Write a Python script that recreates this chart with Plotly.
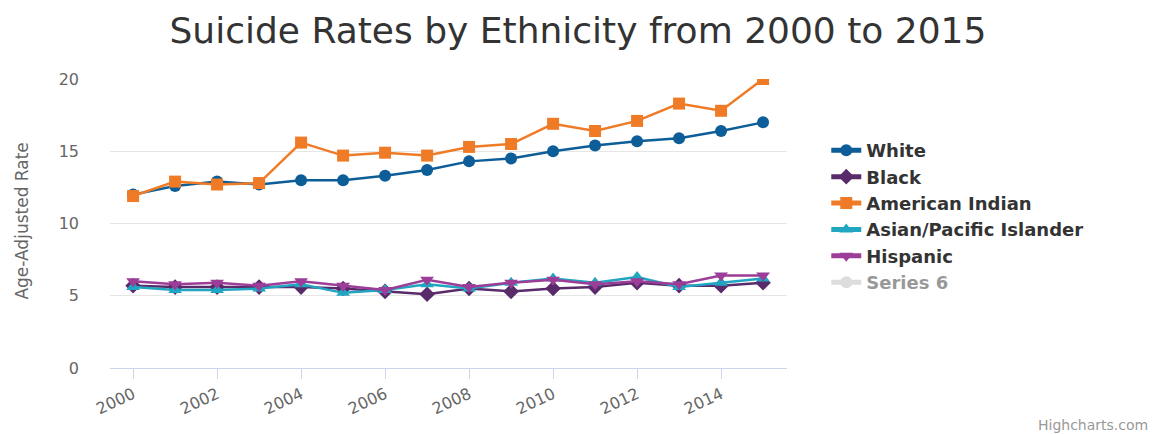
import plotly.graph_objects as go

years = list(range(2000, 2016))
white = [12.0, 12.6, 12.9, 12.7, 13.0, 13.0, 13.3, 13.7, 14.3, 14.5, 15.0, 15.4, 15.7, 15.9, 16.4, 17.0]
black = [5.7, 5.6, 5.6, 5.6, 5.6, 5.5, 5.3, 5.1, 5.5, 5.3, 5.5, 5.6, 5.9, 5.7, 5.7, 5.9]
american_indian = [11.9, 12.9, 12.7, 12.8, 15.6, 14.7, 14.9, 14.7, 15.3, 15.5, 16.9, 16.4, 17.1, 18.3, 17.8, 20.0]
asian_pi = [5.6, 5.4, 5.4, 5.5, 5.8, 5.2, 5.4, 5.8, 5.5, 5.9, 6.2, 5.9, 6.3, 5.6, 5.9, 6.2]
hispanic = [6.0, 5.8, 5.9, 5.7, 6.0, 5.7, 5.4, 6.1, 5.6, 5.9, 6.1, 5.8, 6.0, 5.8, 6.4, 6.4]
series6 = [None]

x_ticks = list(range(2000, 2015, 2))
y_ticks = [0, 5, 10, 15, 20]

series = [
    ("White", white, "#0c5d98", "circle"),
    ("Black", black, "#5a2b6b", "diamond"),
    ("American Indian", american_indian, "#f07b27", "square"),
    ("Asian/Pacific Islander", asian_pi, "#21a6c2", "triangle-up"),
    ("Hispanic", hispanic, "#9c3d98", "triangle-down"),
]

FONT = "DejaVu Sans"

fig = go.Figure()
for name, vals, color, sym in series:
    fig.add_trace(go.Scatter(
        x=years, y=vals, name=name, mode="lines+markers",
        line=dict(color=color, width=2.5),
        marker=dict(symbol=sym, size=12, color=color),
    ))
fig.add_trace(go.Scatter(
    x=years[:len(series6)], y=series6, name="Series 6", mode="lines+markers",
    line=dict(color="#bbbbbb", width=2.5),
    marker=dict(symbol="circle", size=12, color="#bbbbbb"),
    visible="legendonly",
))

fig.update_layout(
    width=1162, height=434,
    margin=dict(l=102, r=383, t=71, b=74),
    paper_bgcolor="white", plot_bgcolor="white",
    title=dict(text="Suicide Rates by Ethnicity from 2000 to 2015",
               x=0.4905, xref="container", xanchor="center",
               y=0.949, yref="container", yanchor="middle",
               font=dict(family=FONT, size=36, color="#333333")),
    font=dict(family=FONT, color="#666666"),
    legend=dict(x=1.058, xanchor="left", y=0.524, yanchor="middle",
                font=dict(family=FONT, size=18, color="#333333", weight="bold"),
                itemsizing="constant", tracegroupgap=0, bgcolor="rgba(0,0,0,0)"),
    showlegend=True,
)
fig.update_xaxes(
    range=[1999.45, 2015.57], tickvals=x_ticks, ticktext=[str(t) for t in x_ticks],
    tickangle=-25, ticks="outside", ticklen=10, tickcolor="#ccd6eb",
    showgrid=False, showline=True, linecolor="#ccd6eb", linewidth=1,
    tickfont=dict(family=FONT, size=16, color="#666666"), zeroline=False,
    automargin=False,
)
fig.update_yaxes(
    range=[0, 20], tickvals=y_ticks, ticktext=[str(t) for t in y_ticks],
    showgrid=True, gridcolor="#e6e6e6", gridwidth=1, zeroline=False,
    tickfont=dict(family=FONT, size=16, color="#666666"), ticks="", ticklabelstandoff=30,
    automargin=False,
)
fig.add_annotation(text="Age-Adjusted Rate", xref="paper", yref="paper",
                   x=-0.13, y=0.51, xanchor="center", yanchor="middle", textangle=-90,
                   showarrow=False, font=dict(family=FONT, size=17, color="#666666"))
fig.add_annotation(text="Highcharts.com", xref="paper", yref="paper",
                   x=1.536, y=-0.197, xanchor="right", yanchor="middle",
                   showarrow=False, font=dict(family=FONT, size=14, color="#999999"))
fig.write_html("out.html")
